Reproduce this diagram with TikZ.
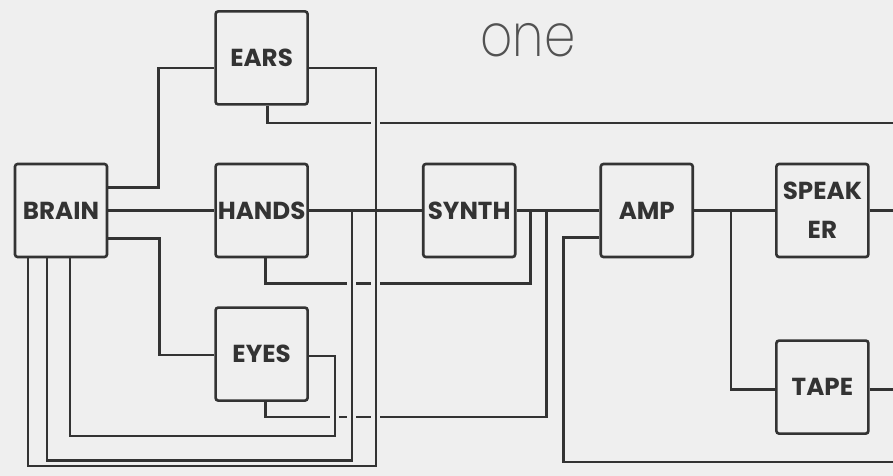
\documentclass[tikz,border=0pt]{standalone}
\usepackage{fontspec}
\newfontfamily\boxfont{Poppins}
\newfontfamily\titlefont{Poppins ExtraLight}
\usetikzlibrary{positioning, calc}
\definecolor{inkgray}{HTML}{333333}
\definecolor{papergray}{HTML}{EFEFEF}

\begin{document}
\begin{tikzpicture}[x=0.02cm, y=-0.02cm,
  unit/.style={rectangle, rounded corners=1.5pt, draw=inkgray, line width=1.5pt,
               minimum width=1.84cm, minimum height=1.86cm, inner sep=0.5pt,
               align=center, text=inkgray,
               font=\boxfont\bfseries\fontsize{14}{22}\selectfont},
  wire/.style={draw=inkgray, line width=1.5pt},
]
  \fill[papergray] (0,0) rectangle (893,476);
  \useasboundingbox (0,0) rectangle (893,476);

  % the units
  \node[unit] (brain) at (61,210.5) {BRAIN};
  \node[unit, right=2.12cm of brain]   (hands)   {HANDS};
  \node[unit, above=1.14cm of hands]   (ears)    {EARS};
  \node[unit, below=0.96cm of hands]   (eyes)    {EYES};
  \node[unit, right=2.26cm of hands]   (synth)   {SYNTH};
  \node[unit, right=1.66cm of synth]   (amp)     {AMP};
  \node[unit, right=1.62cm of amp]     (speaker) {SPEAK\\ER};
  \node[unit, below=1.62cm of speaker] (tape)    {TAPE};

  \node[font=\titlefont\fontsize{34}{34}\selectfont, text=inkgray!85, xscale=0.84] (title) at (528,40) {one};

  % free ends at the right margin
  \coordinate (earsout) at (893,123);
  \coordinate (spkout)  at (speaker.east -| 893,0);
  \coordinate (tapeout) at ($(tape.east -| 893,0)+(0,2.5)$);
  \coordinate (ampout)  at (893,462);

  % forward paths
  \draw[wire] ($(brain.east)+(0,-23)$) -- ++(50,0) |- ($(ears.west)+(0,10)$);
  \draw[wire] (brain) -- (hands);
  \draw[wire] ($(brain.east)+(0,28)$) -- ++(51,0) |- ($(eyes.west)+(0,1)$);
  \draw[wire] (hands) -- (synth);
  \draw[wire] (synth) -- (amp);
  \draw[wire] (amp.east) -- (amp.east -| speaker.west);
  \draw[wire] ($(amp.east)+(37,0)$) |- ($(tape.west)+(0,2.5)$);
  \draw[wire] (speaker.east) -- (spkout);
  \draw[wire] ($(tape.east)+(0,2.5)$) -- (tapeout);

  % feedback paths
  \draw[wire] ($(ears.east)+(0,10)$) -- ++(67,0) coordinate (earsdrop)
              -- ++(0,398) -| ($(brain.south)+(-33,0)$);
  \draw[wire] ($(hands.east)+(43,0)$) coordinate (handsdrop)
              -- ++(0,250) -| ($(brain.south)+(-14,0)$);
  \draw[wire] ($(eyes.east)+(0,2)$) -- ++(26,0) coordinate (eyesdrop)
              -- ++(0,80) -| ($(brain.south)+(9,0)$);
  \draw[wire] ($(hands.south)+(4,0)$) -- ++(0,25) coordinate (handsloop)
              -| ($(synth.east)+(14,0)$);
  \draw[wire] ($(eyes.south)+(4,0)$) -- ++(0,15) coordinate (eyesloop)
              -| ($(synth.east)+(30,0)$);
  \draw[wire] ($(ears.south)+(6,0)$) |- (earsout);
  \draw[wire] ($(amp.west)+(0,27)$) -- ++(-36,0) |- (ampout);

  % small breaks where a level wire passes under a riser
  \foreach \c in {earsdrop |- earsout, earsdrop |- handsloop, earsdrop |- eyesloop,
                  handsdrop |- handsloop, handsdrop |- eyesloop, eyesdrop |- eyesloop} {
    \path (\c) coordinate (hop);
    \fill[papergray] ($(hop)+(-4.5,-2.2)$) rectangle ($(hop)+(4.5,2.2)$);
    \draw[wire] ($(hop)+(0,-4)$) -- ($(hop)+(0,4)$);
  }
\end{tikzpicture}
\end{document}
